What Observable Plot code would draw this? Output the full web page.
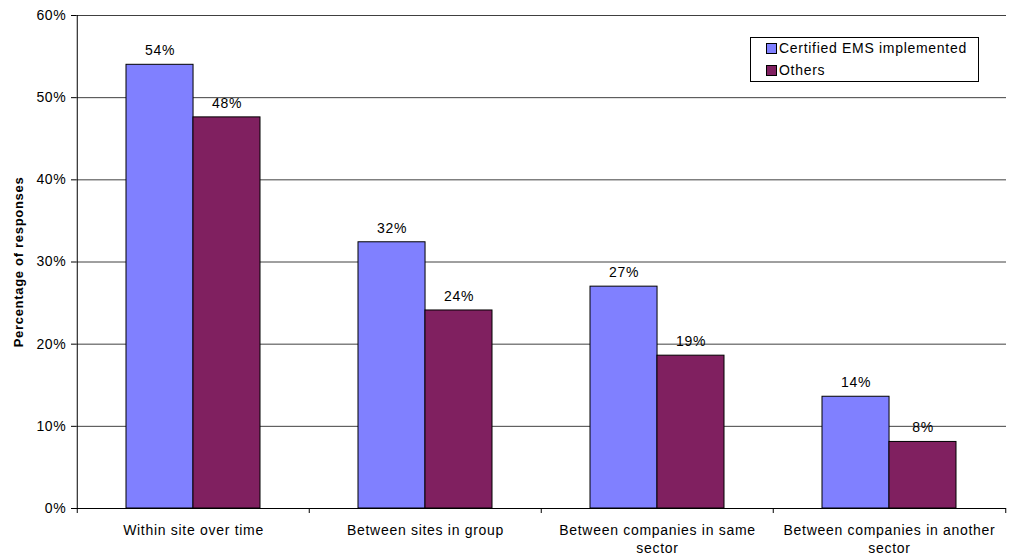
<!DOCTYPE html>
<html>
<head>
<meta charset="utf-8">
<script src="https://cdn.jsdelivr.net/npm/d3@7"></script>
<script src="https://cdn.jsdelivr.net/npm/@observablehq/plot@0.6"></script>
<style>
  html, body { margin: 0; padding: 0; background: #fff; }
  #wrap { position: relative; width: 1009px; height: 558px; font-family: "Liberation Sans", Arial, sans-serif; }
  #legend { position: absolute; left: 750px; top: 37px; width: 227px; height: 43px; border: 1px solid #000; background: #fff; font-size: 14px; letter-spacing: 0.7px; color: #000; }
  .item { position: absolute; left: 15px; display: flex; align-items: center; white-space: nowrap; }
  .sw { width: 9px; height: 9px; border: 1px solid #000; margin-right: 2px; }
</style>
</head>
<body>
<div id="wrap"></div>
<script>
const categories = [
  "Within site over time",
  "Between sites in group",
  "Between companies in same\nsector",
  "Between companies in another\nsector"
];
const seriesNames = ["Certified EMS implemented", "Others"];
const certified = [54.0, 32.4, 27.0, 13.6];
const others = [47.6, 24.1, 18.6, 8.1];
const colors = ["#8080FF", "#802060"];
const yTicks = [0, 10, 20, 30, 40, 50, 60];
const yTitle = "Percentage of responses";

const width = 1009, height = 558;
const marginLeft = 76, marginRight = 3, marginTop = 15, marginBottom = 50;
const pInner = 0.424, pOuter = 0.212;
const plotW = width - marginLeft - marginRight;
const step = plotW / (categories.length - pInner + 2 * pOuter);
const bw = step * (1 - pInner);

const data = [];
categories.forEach((c, i) => {
  data.push({category: c, series: seriesNames[0], value: certified[i]});
  data.push({category: c, series: seriesNames[1], value: others[i]});
});
const s1 = data.filter(d => d.series === seriesNames[0]);
const s2 = data.filter(d => d.series === seriesNames[1]);
const fmt = d => Math.round(d.value) + "%";

const chart = Plot.plot({
  width, height, marginLeft, marginRight, marginTop, marginBottom,
  style: {fontFamily: "'Liberation Sans', Arial, sans-serif", fontSize: "14px", letterSpacing: "0.7px", color: "#000", background: "#fff"},
  x: {domain: categories, paddingInner: pInner, paddingOuter: pOuter, axis: null},
  y: {domain: [0, 60], axis: null},
  marks: [
    Plot.ruleY(yTicks.slice(1), {stroke: "#000", strokeWidth: 1, strokeOpacity: 0.75}),
    Plot.barY(s1, {x: "category", y: "value", fill: colors[0], stroke: "#000", strokeWidth: 1, insetRight: bw / 2}),
    Plot.barY(s2, {x: "category", y: "value", fill: colors[1], stroke: "#000", strokeWidth: 1, insetLeft: bw / 2}),
    Plot.text(s1, {x: "category", y: "value", text: fmt, dx: -bw / 4, dy: -14, fontSize: 14, fill: "#000"}),
    Plot.text(s2, {x: "category", y: "value", text: fmt, dx: bw / 4, dy: -14, fontSize: 14, fill: "#000"}),
    Plot.ruleY([0], {stroke: "#000", strokeWidth: 1}),
    Plot.ruleX([categories[0]], {dx: -step / 2, stroke: "#000", strokeWidth: 1}),
    Plot.axisY({ticks: yTicks, tickFormat: d => d + "%", tickSize: 5, tickPadding: 5, fontSize: 14, label: null}),
    Plot.axisX({ticks: categories, tickSize: 5, tickFormat: () => "", dx: -step / 2, label: null}),
    Plot.axisX({ticks: [categories[categories.length - 1]], tickSize: 5, tickFormat: () => "", dx: step / 2, label: null}),
    Plot.axisX({ticks: categories, tickSize: 0, tickPadding: 14, fontSize: 14, lineHeight: 1.28, label: null}),
    Plot.text([yTitle], {frameAnchor: "left", textAnchor: "middle", rotate: -90, dx: -58, fontWeight: "bold", fontSize: 13, fill: "#000"})
  ]
});
const wrap = document.getElementById("wrap");
wrap.appendChild(chart);

const legend = document.createElement("div");
legend.id = "legend";
seriesNames.forEach((name, i) => {
  const it = document.createElement("div");
  it.className = "item";
  it.style.top = (i === 0 ? 2 : 24) + "px";
  const sw = document.createElement("span");
  sw.className = "sw";
  sw.style.background = colors[i];
  const t = document.createElement("span");
  t.textContent = name;
  it.appendChild(sw);
  it.appendChild(t);
  legend.appendChild(it);
});
wrap.appendChild(legend);
</script>
</body>
</html>
